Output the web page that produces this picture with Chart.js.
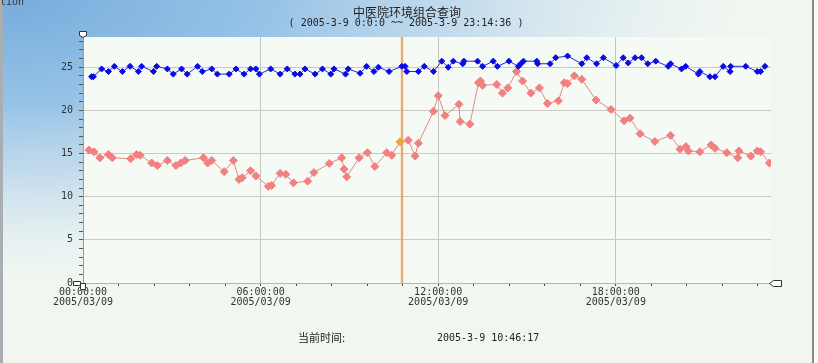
<!DOCTYPE html>
<html><head><meta charset="utf-8">
<script src="https://cdn.jsdelivr.net/npm/chart.js@4/dist/chart.umd.min.js"></script>
<style>html,body{margin:0;padding:0;background:#f2f8f1;overflow:hidden}canvas{display:block}</style>
</head><body>
<canvas id="c" width="818" height="363"></canvas>
<script>
const titleText = '中医院环境组合查询';
const subtitleText = '( 2005-3-9 0:0:0 ~~ 2005-3-9 23:14:36 )';
const currentLabel = '当前时间:';
const currentValue = '2005-3-9 10:46:17';
const cornerText = 'tion';
const dateLabel = '2005/03/09';
const cursorHour = 10 + 46/60 + 17/3600;
const xMax = 23 + 14/60 + 36/3600;
const yMax = 28.5;

const blueHours = [0.29,0.35,0.63,0.86,1.06,1.33,1.59,1.87,1.98,2.38,2.49,2.85,3.05,3.33,3.52,3.87,4.03,4.35,4.54,4.94,5.17,5.44,5.66,5.84,5.96,6.34,6.66,6.90,7.16,7.33,7.50,7.84,8.09,8.37,8.48,8.87,8.96,9.36,9.58,9.83,9.98,10.34,10.77,10.88,10.94,11.33,11.53,11.84,12.12,12.34,12.51,12.83,12.87,13.33,13.50,13.86,14.00,14.39,14.71,14.79,14.88,15.33,15.36,15.78,15.97,16.37,16.85,17.02,17.35,17.58,18.01,18.25,18.42,18.65,18.87,19.08,19.35,19.77,19.85,20.22,20.36,20.79,20.84,21.18,21.35,21.63,21.86,21.88,22.39,22.78,22.89,23.04];
const blueValues = [23.9,23.9,24.8,24.5,25.1,24.5,25.1,24.5,25.1,24.5,25.1,24.8,24.2,24.8,24.2,25.1,24.5,24.8,24.2,24.2,24.8,24.2,24.8,24.8,24.2,24.8,24.2,24.8,24.2,24.2,24.8,24.2,24.8,24.2,24.8,24.2,24.8,24.3,25.1,24.5,25.0,24.5,25.1,25.1,24.5,24.5,25.1,24.5,25.7,25.0,25.7,25.4,25.7,25.7,25.1,25.7,25.1,25.7,25.1,25.4,25.7,25.7,25.4,25.4,26.1,26.3,25.4,26.1,25.4,26.1,25.2,26.1,25.5,26.1,26.1,25.4,25.7,25.1,25.4,24.8,25.1,24.2,24.5,23.9,23.9,25.1,24.5,25.1,25.1,24.5,24.5,25.1];

const redHours = [0.20,0.37,0.57,0.86,0.99,1.61,1.81,1.93,2.32,2.51,2.85,3.14,3.30,3.45,4.07,4.21,4.35,4.77,5.08,5.27,5.38,5.66,5.84,6.26,6.37,6.66,6.85,7.11,7.59,7.80,8.32,8.74,8.82,8.91,9.33,9.61,9.86,10.26,10.43,10.71,10.99,11.22,11.33,11.84,12.00,12.23,12.70,12.74,13.07,13.36,13.43,13.50,13.98,14.17,14.35,14.65,14.85,15.13,15.42,15.69,16.06,16.26,16.37,16.60,16.85,17.33,17.84,18.28,18.48,18.82,19.32,19.85,20.17,20.37,20.45,20.84,21.22,21.35,21.75,22.12,22.16,22.56,22.78,22.89,23.19];
const redValues = [15.4,15.2,14.5,14.9,14.5,14.4,14.9,14.8,13.9,13.6,14.2,13.6,13.9,14.2,14.5,13.9,14.2,12.9,14.2,12.0,12.2,13.0,12.4,11.2,11.3,12.7,12.6,11.6,11.8,12.8,13.85,14.5,13.2,12.3,14.5,15.1,13.5,15.1,14.8,16.35,16.55,14.7,16.2,19.9,21.7,19.4,20.7,18.7,18.4,23.2,23.4,22.9,23.0,22.0,22.6,24.5,23.4,22.0,22.6,20.8,21.1,23.2,23.1,24.0,23.6,21.2,20.1,18.8,19.1,17.3,16.4,17.1,15.5,15.8,15.3,15.2,16.0,15.6,15.1,14.5,15.3,14.7,15.3,15.2,13.9];
const highlightedRedIndex = 39;

const pad2 = n => String(n).padStart(2,'0');
const isMult = (v, m) => Math.abs(v/m - Math.round(v/m)) < 1e-6;
const monoFont = 'DejaVu Sans Mono';

const decorPlugin = {
  id: 'decor',
  beforeDraw(chart) {
    const ctx = chart.ctx, W = chart.width, H = chart.height, a = chart.chartArea;
    ctx.save();
    ctx.fillStyle = '#f1f7f0';
    ctx.fillRect(0, 0, W, H);
    ctx.save();
    const s = 0.38;
    ctx.setTransform(1, 0, 0, s, 0, 0);
    const g = ctx.createRadialGradient(0, 0, 0, 0, 0, 780);
    g.addColorStop(0, 'rgba(118,172,220,1)');
    g.addColorStop(0.35, 'rgba(146,192,230,0.95)');
    g.addColorStop(0.6, 'rgba(186,214,236,0.8)');
    g.addColorStop(0.85, 'rgba(226,238,242,0.5)');
    g.addColorStop(1, 'rgba(241,247,240,0)');
    ctx.fillStyle = g;
    ctx.fillRect(0, 0, W, H / s);
    ctx.restore();
    ctx.fillStyle = '#f6faf4';
    ctx.fillRect(a.left, a.top, a.right - a.left, a.bottom - a.top);
    ctx.fillStyle = '#a9aeb3';
    ctx.fillRect(0, 0, 3, H);
    ctx.fillStyle = '#fafafa';
    ctx.fillRect(814, 0, W - 814, H);
    ctx.fillStyle = '#8a8a8a';
    ctx.fillRect(812, 0, 2, H);
    ctx.restore();
  },
  beforeDatasetsDraw(chart) {
    const ctx = chart.ctx, a = chart.chartArea;
    const x = Math.round(chart.scales.x.getPixelForValue(cursorHour));
    ctx.save();
    ctx.fillStyle = 'rgba(242,205,160,0.6)';
    ctx.fillRect(x - 1.5, a.top, 3, a.bottom - a.top);
    ctx.fillStyle = '#e39a55';
    ctx.fillRect(x - 0.75, a.top, 1.5, a.bottom - a.top);
    ctx.restore();
  },
  afterDraw(chart) {
    const ctx = chart.ctx, a = chart.chartArea;
    ctx.save();
    ctx.fillStyle = '#222';
    ctx.textBaseline = 'middle';
    ctx.textAlign = 'center';
    ctx.font = '12px "Noto Sans CJK SC"';
    ctx.fillText(titleText, 407, 12);
    ctx.font = '10px "' + monoFont + '"';
    ctx.fillText(subtitleText, 406, 23);
    ctx.textAlign = 'left';
    ctx.font = '11px "Noto Sans CJK SC"';
    ctx.fillText(currentLabel, 298, 338);
    ctx.font = '10px "' + monoFont + '"';
    ctx.fillText(currentValue, 437, 338);
    ctx.fillStyle = '#333';
    ctx.fillText(cornerText, 0, 2);
    ctx.strokeStyle = '#333';
    ctx.fillStyle = '#fff';
    ctx.lineWidth = 1;
    ctx.beginPath();
    ctx.moveTo(a.left - 3.5, a.top - 5.5);
    ctx.lineTo(a.left + 3.5, a.top - 5.5);
    ctx.lineTo(a.left + 3.5, a.top - 1.5);
    ctx.lineTo(a.left, a.top + 0.5);
    ctx.lineTo(a.left - 3.5, a.top - 1.5);
    ctx.closePath();
    ctx.fill(); ctx.stroke();
    ctx.beginPath();
    ctx.rect(a.left - 9.5, a.bottom - 1.5, 7, 4);
    ctx.fill(); ctx.stroke();
    ctx.beginPath();
    ctx.rect(a.left - 2.5, a.bottom + 0.5, 5, 6);
    ctx.fill(); ctx.stroke();
    ctx.beginPath();
    ctx.moveTo(a.right - 1.5, a.bottom + 0.5);
    ctx.lineTo(a.right + 2.5, a.bottom - 2.5);
    ctx.lineTo(a.right + 10.5, a.bottom - 2.5);
    ctx.lineTo(a.right + 10.5, a.bottom + 3.5);
    ctx.lineTo(a.right + 2.5, a.bottom + 3.5);
    ctx.closePath();
    ctx.fill(); ctx.stroke();
    ctx.restore();
  }
};

const toPoints = (hs, vs) => hs.map((h, i) => ({ x: h, y: vs[i] }));

new Chart(document.getElementById('c'), {
  type: 'scatter',
  data: {
    datasets: [
      {
        label: 'blue',
        data: toPoints(blueHours, blueValues),
        showLine: true,
        borderColor: '#2a2ad8',
        borderWidth: 1,
        pointStyle: 'rectRot',
        pointRadius: 3,
        pointBackgroundColor: '#0a0ae6',
        pointBorderColor: '#0a0ae6',
        pointBorderWidth: 1
      },
      {
        label: 'red',
        data: toPoints(redHours, redValues),
        showLine: true,
        borderColor: '#e08a86',
        borderWidth: 1,
        pointStyle: 'rectRot',
        pointRadius: 4,
        pointBackgroundColor: c => c.dataIndex === highlightedRedIndex ? '#f4a234' : '#f28080',
        pointBorderColor: c => c.dataIndex === highlightedRedIndex ? '#f4a234' : '#f28080',
        pointBorderWidth: 1
      }
    ]
  },
  options: {
    responsive: false,
    animation: false,
    devicePixelRatio: 1,
    layout: { padding: { left: 0, right: 47, top: 37, bottom: 50 } },
    plugins: { legend: { display: false }, tooltip: { enabled: false }, title: { display: false } },
    scales: {
      x: {
        type: 'linear', min: 0, max: xMax,
        afterBuildTicks: s => { s.ticks = Array.from({ length: 20 }, (_, i) => ({ value: i * 1.2 })); },
        afterFit: s => { s.height = 30; },
        ticks: {
          autoSkip: false, maxRotation: 0, minRotation: 0, padding: 2, color: '#333',
          font: { family: monoFont, size: 10, lineHeight: 0.95 },
          callback: v => isMult(v, 6) ? [pad2(Math.round(v)) + ':00:00', dateLabel] : ''
        },
        grid: {
          color: c => (c.tick && c.tick.value > 0 && isMult(c.tick.value, 6)) ? '#c6c6be' : 'rgba(0,0,0,0)',
          tickColor: '#444', tickLength: 3, lineWidth: 1
        },
        border: { color: '#b4b4b4' }
      },
      y: {
        min: 0, max: yMax,
        afterBuildTicks: s => { s.ticks = Array.from({ length: 29 }, (_, i) => ({ value: i })); },
        afterFit: s => { s.width = 83; },
        ticks: {
          padding: 6, color: '#333', autoSkip: false,
          font: { family: monoFont, size: 10 },
          callback: v => isMult(v, 5) ? String(v) : ''
        },
        grid: {
          color: c => (c.tick && c.tick.value > 0 && isMult(c.tick.value, 5)) ? '#cacac2' : 'rgba(0,0,0,0)',
          tickColor: '#555', tickLength: 4, lineWidth: 1
        },
        border: { color: '#9a9a9a' }
      }
    }
  },
  plugins: [decorPlugin]
});
</script>
</body></html>
